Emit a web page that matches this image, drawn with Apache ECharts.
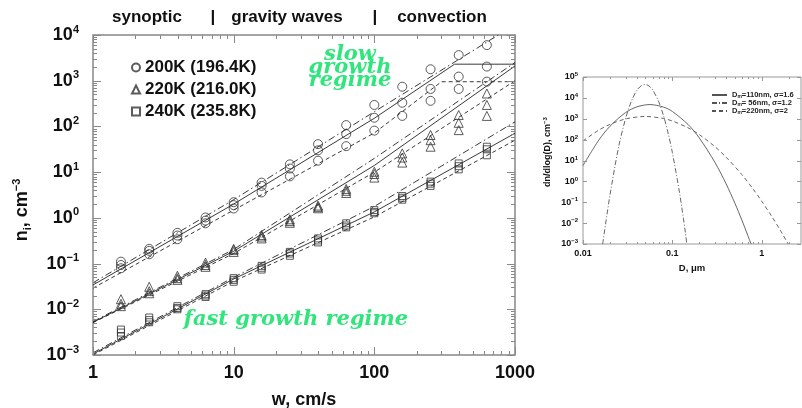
<!DOCTYPE html>
<html>
<head>
<meta charset="utf-8">
<script src="https://cdn.jsdelivr.net/npm/echarts@6/dist/echarts.min.js"></script>
<style>
html, body { margin: 0; padding: 0; background: #fff; }
#chart { width: 802px; height: 408px; }
</style>
</head>
<body>
<div id="chart"></div>
<script>
// updraft speeds of the simulations (cm/s)
const wVals = [1.58, 2.51, 3.98, 6.31, 10, 15.8, 25.1, 39.8, 63.1, 100, 158, 251, 398, 631];

// ice crystal number, three runs per temperature (upper / middle / lower)
const n200Hi = [0.11, 0.21, 0.47, 1.02, 2.2, 5.9, 14.8, 41, 107, 295, 740, 1780, 3630, 6000];
const n200Mid = [0.093, 0.19, 0.41, 0.87, 1.9, 5.0, 12, 30, 68, 155, 330, 660, 1230, 2040];
const n200Lo = [0.079, 0.16, 0.34, 0.76, 1.6, 3.6, 8.1, 17.8, 37, 81, 170, 363, 660, 955];

const n220Hi = [0.0166, 0.031, 0.054, 0.105, 0.21, 0.42, 0.93, 1.86, 4.3, 10.2, 25.7, 65, 178, 525];
const n220Mid = [0.0132, 0.025, 0.048, 0.093, 0.20, 0.39, 0.85, 1.74, 3.9, 9.1, 20.9, 50, 120, 295];
const n220Lo = [0.0117, 0.0224, 0.044, 0.085, 0.18, 0.355, 0.78, 1.62, 3.5, 7.6, 16.2, 36, 83, 170];

const n240Hi = [0.0036, 0.0066, 0.0117, 0.0214, 0.048, 0.089, 0.18, 0.355, 0.76, 1.48, 3.0, 6.2, 15.5, 36];
const n240Mid = [0.0031, 0.0058, 0.0107, 0.020, 0.044, 0.081, 0.166, 0.32, 0.68, 1.35, 2.75, 5.6, 13.5, 31.6];
const n240Lo = [0.0026, 0.0052, 0.010, 0.0186, 0.040, 0.074, 0.148, 0.29, 0.62, 1.26, 2.5, 5.0, 11.5, 23.4];

// parameterisation curves [w, n]
const fit200DashDot = [[1, 0.038], [10, 2.5], [100, 210], [760, 10000]];
const fit200Solid = [[1, 0.034], [10, 2.0], [100, 151], [372, 2300], [1000, 2300]];
const fit200Dash = [[1, 0.029], [10, 1.48], [100, 72], [300, 950], [1000, 950]];
const fit220DashDot = [[1, 0.0054], [10, 0.204], [100, 20], [1000, 2500]];
const fit220Solid = [[1, 0.0052], [10, 0.186], [100, 14], [1000, 2100]];
const fit220Dash = [[1, 0.0051], [10, 0.166], [100, 10], [1000, 1000]];
const fit240DashDot = [[1, 0.00112], [10, 0.05], [100, 1.78], [1000, 126]];
const fit240Solid = [[1, 0.00105], [10, 0.046], [100, 1.35], [1000, 71]];
const fit240Dash = [[1, 0.001], [10, 0.041], [100, 1.05], [1000, 50]];

const tempNames = ['200K (196.4K)', '220K (216.0K)', '240K (235.8K)'];

// inset: aerosol size distributions
const sizeD = [0.01, 0.015, 0.02, 0.03, 0.04, 0.056, 0.08, 0.1, 0.15, 0.2, 0.3, 0.4, 0.5, 0.6, 0.7, 0.76];
const dist110 = [5.7, 94, 434, 1990, 3700, 4790, 3590, 2230, 528, 121, 8.0, 0.75, 0.091, 0.0138, 0.0025, 0.001];
const sizeD56 = [0.0166, 0.02, 0.025, 0.03, 0.035, 0.04, 0.045, 0.05, 0.055, 0.06, 0.07, 0.08, 0.09, 0.1, 0.12, 0.14, 0.145];
const dist56 = [0.001, 0.21, 43, 1050, 7400, 22600, 38500, 43600, 36600, 24500, 6900, 1300, 190, 24, 0.30, 0.0035, 0.001];
const sizeD220 = [0.01, 0.015, 0.02, 0.03, 0.05, 0.08, 0.1, 0.15, 0.2, 0.3, 0.4, 0.6, 0.8, 1.0, 1.3, 1.6, 1.98];
const dist220 = [87, 284, 537, 980, 1290, 1025, 780, 367, 174, 45.7, 14.3, 2.09, 0.43, 0.112, 0.0204, 0.0048, 0.001];
const distNames = ['D_m=110nm, σ=1.6', 'D_m= 56nm, σ=1.2', 'D_m=220nm, σ=2'];

const SANS = '"Liberation Sans", Arial, sans-serif';
const GREEN = '#2fe57c';
const LINE = '#222';

function pairs(xs, ys) {
    return xs.map((x, i) => [x, ys[i]]);
}

function scatterData(hi, mid, lo) {
    return pairs(wVals, hi).concat(pairs(wVals, mid), pairs(wVals, lo));
}

function powLabel(v) {
    const e = Math.round(Math.log10(v));
    return '{b|10}{s|' + (e < 0 ? '\u2212' + (-e) : e) + '}';
}

function isDecade(v) {
    const e = Math.log10(v);
    return Math.abs(e - Math.round(e)) < 1e-6;
}

// tick marks on all four sides: [x, y, kind] kind 0 x-major, 1 x-minor, 2 y-major, 3 y-minor
function logTicks(lo, hi, withMinor) {
    const out = [];
    const e0 = Math.floor(Math.log10(lo) + 1e-9);
    const e1 = Math.ceil(Math.log10(hi) - 1e-9);
    for (let e = e0; e <= e1; e++) {
        const base = Math.pow(10, e);
        if (base >= lo * 0.999 && base <= hi * 1.001) out.push([base, 0]);
        if (!withMinor) continue;
        for (let m = 2; m <= 9; m++) {
            const v = m * base;
            if (v > lo && v < hi) out.push([v, 1]);
        }
    }
    return out;
}

function tickData(xr, yr, yMinor) {
    const d = [];
    logTicks(xr[0], xr[1], true).forEach(t => d.push([t[0], yr[0], t[1]]));
    logTicks(yr[0], yr[1], yMinor).forEach(t => d.push([xr[0], t[0], 2 + t[1]]));
    return d;
}

function tickRenderer(majorLen, minorLen, color) {
    return function (params, api) {
        const cs = params.coordSys;
        const kind = api.value(2);
        const p = api.coord([api.value(0), api.value(1)]);
        const len = kind % 2 === 0 ? majorLen : minorLen;
        const style = { stroke: color, lineWidth: 1 };
        let a, b;
        if (kind < 2) {
            const x = Math.round(p[0]) + 0.5;
            a = [x, cs.y + cs.height, x, cs.y + cs.height - len];
            b = [x, cs.y, x, cs.y + len];
        } else {
            const y = Math.round(p[1]) + 0.5;
            a = [cs.x, y, cs.x + len, y];
            b = [cs.x + cs.width, y, cs.x + cs.width - len, y];
        }
        return {
            type: 'group',
            children: [
                { type: 'line', shape: { x1: a[0], y1: a[1], x2: a[2], y2: a[3] }, style: style },
                { type: 'line', shape: { x1: b[0], y1: b[1], x2: b[2], y2: b[3] }, style: style }
            ]
        };
    };
}

const markerStyle = { color: 'rgba(255,255,255,0)', borderColor: '#333', borderWidth: 1 };

function fitLine(data, dash) {
    return {
        type: 'line', xAxisIndex: 0, yAxisIndex: 0, data: data,
        symbol: 'none', silent: true, z: 1,
        lineStyle: { color: LINE, width: 0.9, type: dash }
    };
}

const DASHDOT = [7, 3, 1.5, 3];
const DASH = [4, 3];

const chart = echarts.init(document.getElementById('chart'), null, { renderer: 'canvas' });

chart.setOption({
    animation: false,
    backgroundColor: '#fff',
    grid: [
        { left: 93, top: 35, width: 422, height: 320, show: true, borderColor: '#888', borderWidth: 1.5, outerBoundsMode: 'none' },
        { left: 583, top: 77, width: 218, height: 167, show: true, borderColor: '#999', borderWidth: 1, outerBoundsMode: 'none' }
    ],
    xAxis: [
        {
            type: 'log', gridIndex: 0, min: 1, max: 1000,
            axisLine: { show: false }, axisTick: { show: false }, splitLine: { show: false },
            axisLabel: {
                margin: 9, color: '#111', fontFamily: SANS, fontWeight: 'bold', fontSize: 18,
                formatter: v => String(Math.round(v))
            }
        },
        {
            type: 'log', gridIndex: 1, min: 0.01, max: 2.75,
            axisLine: { show: false }, axisTick: { show: false }, splitLine: { show: false },
            axisLabel: {
                margin: 5, color: '#111', fontFamily: SANS, fontWeight: 'bold', fontSize: 9,
                formatter: v => isDecade(v) ? String(parseFloat(v.toPrecision(3))) : ''
            }
        }
    ],
    yAxis: [
        {
            type: 'log', gridIndex: 0, min: 0.001, max: 10000,
            axisLine: { show: false }, axisTick: { show: false }, splitLine: { show: false },
            axisLabel: {
                margin: 14, color: '#111', formatter: powLabel,
                rich: {
                    b: { fontFamily: SANS, fontWeight: 'bold', fontSize: 18, lineHeight: 22, color: '#111' },
                    s: { fontFamily: SANS, fontWeight: 'bold', fontSize: 11, lineHeight: 12, verticalAlign: 'top', color: '#111' }
                }
            }
        },
        {
            type: 'log', gridIndex: 1, min: 0.001, max: 100000,
            axisLine: { show: false }, axisTick: { show: false }, splitLine: { show: false },
            axisLabel: {
                margin: 5, color: '#111', formatter: powLabel,
                rich: {
                    b: { fontFamily: SANS, fontWeight: 'bold', fontSize: 9, lineHeight: 11, color: '#111' },
                    s: { fontFamily: SANS, fontWeight: 'bold', fontSize: 6, lineHeight: 6, verticalAlign: 'top', color: '#111' }
                }
            }
        }
    ],
    legend: [
        {
            left: 126, top: 54, orient: 'vertical', itemGap: 5, itemWidth: 8, itemHeight: 8,
            data: tempNames,
            textStyle: { fontFamily: SANS, fontWeight: 'bold', fontSize: 17, color: '#111' }
        },
        {
            left: 706, top: 86, orient: 'vertical', itemGap: 0, itemWidth: 15, itemHeight: 7,
            data: distNames,
            itemStyle: { opacity: 0 },
            formatter: name => {
                const parts = name.split('=');
                return '{t|D}{sub|m}{t|=' + parts.slice(1).join('=') + '}';
            },
            textStyle: {
                rich: {
                    t: { fontFamily: SANS, fontWeight: 'bold', fontSize: 7.5, color: '#222' },
                    sub: { fontFamily: SANS, fontWeight: 'bold', fontSize: 5, verticalAlign: 'bottom', color: '#222' }
                }
            }
        }
    ],
    graphic: [
        { type: 'text', x: 147, y: 17, style: { text: 'synoptic', font: 'bold 17px ' + SANS, fill: '#111', align: 'center', verticalAlign: 'middle' } },
        { type: 'text', x: 213, y: 17, style: { text: '|', font: 'bold 17px ' + SANS, fill: '#111', align: 'center', verticalAlign: 'middle' } },
        { type: 'text', x: 287, y: 17, style: { text: 'gravity waves', font: 'bold 17px ' + SANS, fill: '#111', align: 'center', verticalAlign: 'middle' } },
        { type: 'text', x: 375, y: 17, style: { text: '|', font: 'bold 17px ' + SANS, fill: '#111', align: 'center', verticalAlign: 'middle' } },
        { type: 'text', x: 442, y: 17, style: { text: 'convection', font: 'bold 17px ' + SANS, fill: '#111', align: 'center', verticalAlign: 'middle' } },
        { type: 'text', x: 304, y: 400, style: { text: 'w, cm/s', font: 'bold 18px ' + SANS, fill: '#111', align: 'center', verticalAlign: 'middle' } },
        {
            type: 'text', x: 22, y: 210, rotation: Math.PI / 2,
            style: {
                text: '{b|n}{sub|i}{b|, cm}{sup|\u22123}', align: 'center', verticalAlign: 'middle',
                rich: {
                    b: { fontFamily: SANS, fontWeight: 'bold', fontSize: 18, lineHeight: 22, fill: '#111' },
                    sub: { fontFamily: SANS, fontWeight: 'bold', fontSize: 11, lineHeight: 12, verticalAlign: 'bottom', fill: '#111' },
                    sup: { fontFamily: SANS, fontWeight: 'bold', fontSize: 11, lineHeight: 12, verticalAlign: 'top', fill: '#111' }
                }
            }
        },
        { type: 'text', x: 350, y: 68, z: 10, style: { text: 'slow\ngrowth\nregime', font: 'italic bold 21px "DejaVu Serif"', lineHeight: 13, fill: GREEN, align: 'center', verticalAlign: 'middle' } },
        { type: 'text', x: 296, y: 320, z: 10, style: { text: 'fast growth regime', font: 'italic bold 21px "DejaVu Serif"', fill: GREEN, align: 'center', verticalAlign: 'middle' } },
        { type: 'text', x: 692, y: 268, style: { text: 'D, \u03bcm', font: 'bold 9.5px ' + SANS, fill: '#111', align: 'center', verticalAlign: 'middle' } },
        {
            type: 'text', x: 548, y: 152, rotation: Math.PI / 2,
            style: {
                text: '{b|dn/dlog(D), cm}{sup|\u22123}', align: 'center', verticalAlign: 'middle',
                rich: {
                    b: { fontFamily: SANS, fontWeight: 'bold', fontSize: 9, lineHeight: 11, fill: '#111' },
                    sup: { fontFamily: SANS, fontWeight: 'bold', fontSize: 6, lineHeight: 6, verticalAlign: 'top', fill: '#111' }
                }
            }
        }
    ],
    series: [
        fitLine(fit200DashDot, DASHDOT), fitLine(fit200Solid, 'solid'), fitLine(fit200Dash, DASH),
        fitLine(fit220DashDot, DASHDOT), fitLine(fit220Solid, 'solid'), fitLine(fit220Dash, DASH),
        fitLine(fit240DashDot, DASHDOT), fitLine(fit240Solid, 'solid'), fitLine(fit240Dash, DASH),
        {
            name: tempNames[0], type: 'scatter', xAxisIndex: 0, yAxisIndex: 0, z: 3,
            symbol: 'circle', symbolSize: 9, itemStyle: markerStyle,
            data: scatterData(n200Hi, n200Mid, n200Lo)
        },
        {
            name: tempNames[1], type: 'scatter', xAxisIndex: 0, yAxisIndex: 0, z: 3,
            symbol: 'triangle', symbolSize: 9, itemStyle: markerStyle,
            data: scatterData(n220Hi, n220Mid, n220Lo)
        },
        {
            name: tempNames[2], type: 'scatter', xAxisIndex: 0, yAxisIndex: 0, z: 3,
            symbol: 'rect', symbolSize: 7, itemStyle: markerStyle,
            data: scatterData(n240Hi, n240Mid, n240Lo)
        },
        {
            name: distNames[0], type: 'line', xAxisIndex: 1, yAxisIndex: 1,
            data: pairs(sizeD, dist110), symbol: 'none', smooth: 0.3,
            lineStyle: { color: '#555', width: 0.9, type: 'solid' }, itemStyle: { color: '#555' }
        },
        {
            name: distNames[1], type: 'line', xAxisIndex: 1, yAxisIndex: 1,
            data: pairs(sizeD56, dist56), symbol: 'none', smooth: 0.3,
            lineStyle: { color: '#555', width: 0.9, type: [5, 2, 1, 2] }, itemStyle: { color: '#555' }
        },
        {
            name: distNames[2], type: 'line', xAxisIndex: 1, yAxisIndex: 1,
            data: pairs(sizeD220, dist220), symbol: 'none', smooth: 0.3,
            lineStyle: { color: '#555', width: 0.9, type: [4, 3] }, itemStyle: { color: '#555' }
        },
        {
            type: 'custom', xAxisIndex: 0, yAxisIndex: 0, silent: true, z: 5,
            renderItem: tickRenderer(8, 4, '#888'),
            data: tickData([1, 1000], [0.001, 10000], true)
        },
        {
            type: 'custom', xAxisIndex: 1, yAxisIndex: 1, silent: true, z: 5,
            renderItem: tickRenderer(4, 2, '#999'),
            data: tickData([0.01, 2.75], [0.001, 100000], false)
        }
    ]
});
</script>
</body>
</html>
